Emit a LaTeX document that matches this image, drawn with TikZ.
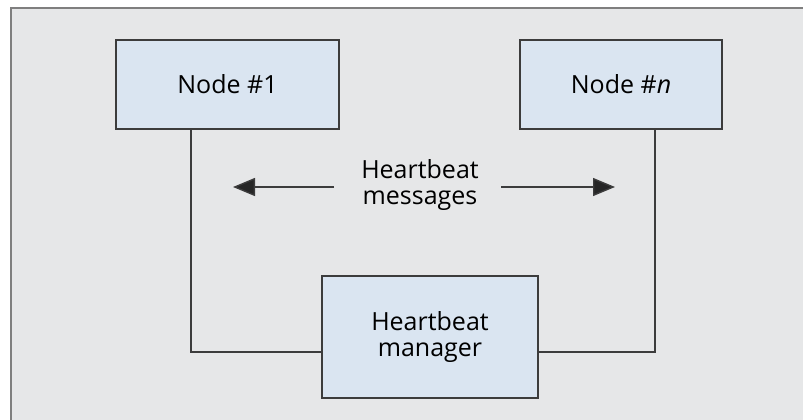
\documentclass[tikz,border=0pt]{standalone}
\usepackage{fontspec}
\setmainfont{Open Sans}
\usetikzlibrary{arrows.meta}
\definecolor{bgc}{HTML}{E6E7E8}
\definecolor{boxc}{HTML}{DAE5F1}
\definecolor{framec}{HTML}{7F7F7F}
\definecolor{edgec}{HTML}{3C3C3C}
\tikzset{
  box/.style={draw=edgec, fill=boxc, line width=1.5pt, minimum width=#1, align=center,
    font=\fontsize{25}{26}\selectfont, inner sep=0pt},
  link/.style={draw=edgec, line width=1.4pt},
  msg/.style={draw=edgec, line width=1.4pt, -{Triangle[length=22pt,width=18pt,fill=black!85]}}
}
\begin{document}
\begin{tikzpicture}[x=1pt,y=-1pt]
\useasboundingbox (0,0) rectangle (803,420);
\fill[white] (0,0) rectangle (803,420);
\draw[framec, fill=bgc, line width=1.5pt] (11,8) rectangle (830,450);
\node[box=223pt, minimum height=89pt] (n1) at (227.5,84.5) {Node \#1};
\node[box=202pt, minimum height=89pt] (nn) at (621,84.5) {Node \#\textit{n}};
\node[box=216pt, minimum height=122pt] (hm) at (430,337) {Heartbeat\\manager};
\node[font=\fontsize{25}{26}\selectfont, align=center, inner sep=0pt] (hb) at (420,185) {Heartbeat\\messages};
\coordinate (hl) at (334,187);
\coordinate (hlt) at (233,187);
\coordinate (hr) at (501,187);
\coordinate (hrt) at (615,187);
\draw[link] (n1.south -| 191,0) |- (hm.west |- 0,352);
\draw[link] (nn.south -| 655,0) |- (hm.east |- 0,352);
\draw[msg] (hl) -- (hlt);
\draw[msg] (hr) -- (hrt);
\end{tikzpicture}
\end{document}
